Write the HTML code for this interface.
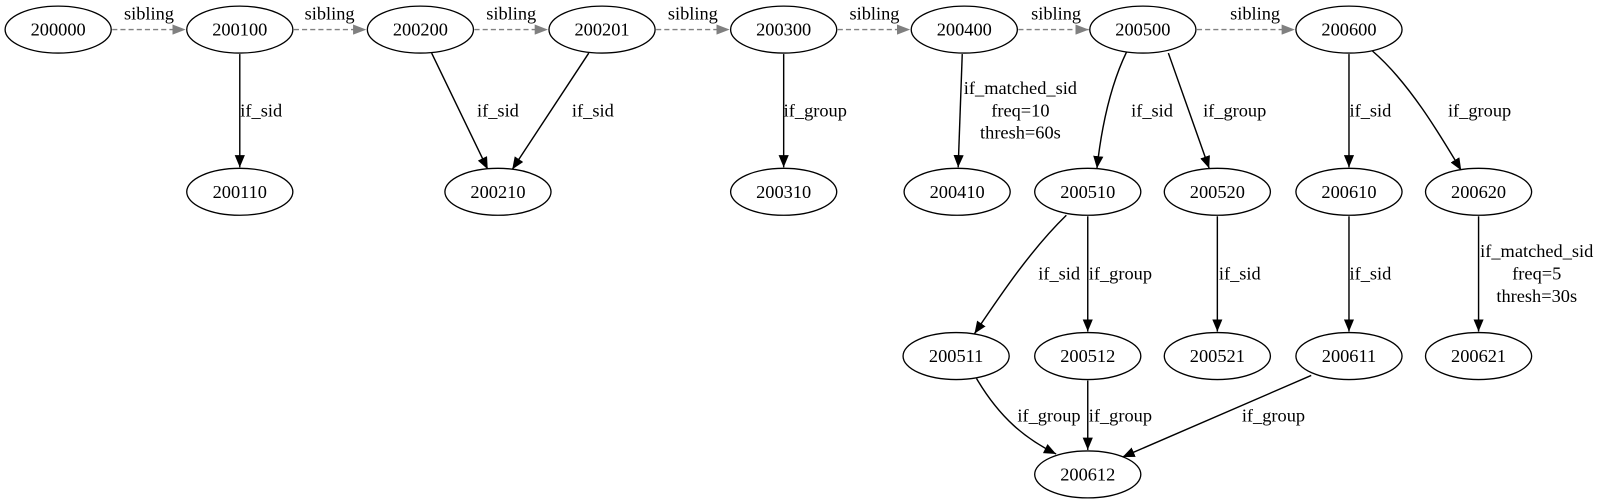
<!DOCTYPE html>
<html><head><meta charset="utf-8"><style>
html,body{margin:0;padding:0;background:#fff;width:1600px;height:504px;overflow:hidden}
svg{display:block}
text{font-family:"Liberation Serif",serif;font-size:18px;fill:#000}
</style></head><body>
<svg width="1600" height="504" viewBox="0 0 1568 494" preserveAspectRatio="none" xmlns="http://www.w3.org/2000/svg">
<defs>
<marker id="a" markerWidth="12" markerHeight="10" refX="12" refY="5" orient="auto" markerUnits="userSpaceOnUse"><path d="M0,0 L12,5 L0,10 Z" fill="#000"/></marker>
<marker id="g" markerWidth="13" markerHeight="10" refX="13" refY="5" orient="auto" markerUnits="userSpaceOnUse"><path d="M0,0 L13,5 L0,10 Z" fill="#808080"/></marker>
</defs>
<g fill="none" stroke="#808080" stroke-width="1.3" stroke-dasharray="5,3" marker-end="url(#g)">
<path d="M110,29 L182,29"/>
<path d="M288,29 L359,29"/>
<path d="M465,29 L537,29"/>
<path d="M643,29 L715,29"/>
<path d="M821,29 L892,29"/>
<path d="M998,29 L1067,29"/>
<path d="M1173,29 L1269,29"/>
</g>
<g>
<text x="146" y="19" text-anchor="middle">sibling</text>
<text x="323" y="19" text-anchor="middle">sibling</text>
<text x="501" y="19" text-anchor="middle">sibling</text>
<text x="679" y="19" text-anchor="middle">sibling</text>
<text x="857" y="19" text-anchor="middle">sibling</text>
<text x="1035" y="19" text-anchor="middle">sibling</text>
<text x="1230" y="19" text-anchor="middle">sibling</text>
</g>
<g fill="none" stroke="#000" stroke-width="1.4" marker-end="url(#a)">
<path d="M235,53 L235,164"/>
<path d="M423,52 L478,166"/>
<path d="M577,52 L502,166"/>
<path d="M768,53 L768,164"/>
<path d="M943,53 L939,164"/>
<path d="M1104,51 C1090,80 1080,120 1075,165"/>
<path d="M1145,52 L1185,165"/>
<path d="M1322,53 L1322,164"/>
<path d="M1345,50 C1380,80 1410,130 1432,167"/>
<path d="M1045,211 C1010,245 980,290 955,327"/>
<path d="M1066,212 L1066,325"/>
<path d="M1193,212 L1193,325"/>
<path d="M1322,212 L1322,325"/>
<path d="M1449,212 L1449,325"/>
<path d="M957,371 C980,410 1005,430 1035,445"/>
<path d="M1066,373 L1066,441"/>
<path d="M1285,368 L1100,448"/>
</g>
<g fill="#fff" stroke="#000" stroke-width="1.3">
<ellipse cx="57" cy="29" rx="52" ry="23"/>
<ellipse cx="235" cy="29" rx="52" ry="23"/>
<ellipse cx="412" cy="29" rx="52" ry="23"/>
<ellipse cx="590" cy="29" rx="52" ry="23"/>
<ellipse cx="768" cy="29" rx="52" ry="23"/>
<ellipse cx="945" cy="29" rx="52" ry="23"/>
<ellipse cx="1120" cy="29" rx="52" ry="23"/>
<ellipse cx="1322" cy="29" rx="52" ry="23"/>
<ellipse cx="235" cy="188" rx="52" ry="23"/>
<ellipse cx="488" cy="188" rx="52" ry="23"/>
<ellipse cx="768" cy="188" rx="52" ry="23"/>
<ellipse cx="938" cy="188" rx="52" ry="23"/>
<ellipse cx="1066" cy="188" rx="52" ry="23"/>
<ellipse cx="1193" cy="188" rx="52" ry="23"/>
<ellipse cx="1322" cy="188" rx="52" ry="23"/>
<ellipse cx="1449" cy="188" rx="52" ry="23"/>
<ellipse cx="937" cy="349" rx="52" ry="23"/>
<ellipse cx="1066" cy="349" rx="52" ry="23"/>
<ellipse cx="1193" cy="349" rx="52" ry="23"/>
<ellipse cx="1322" cy="349" rx="52" ry="23"/>
<ellipse cx="1449" cy="349" rx="52" ry="23"/>
<ellipse cx="1066" cy="465" rx="52" ry="23"/>
</g>
<g text-anchor="middle">
<text x="57" y="35">200000</text>
<text x="235" y="35">200100</text>
<text x="412" y="35">200200</text>
<text x="590" y="35">200201</text>
<text x="768" y="35">200300</text>
<text x="945" y="35">200400</text>
<text x="1120" y="35">200500</text>
<text x="1322" y="35">200600</text>
<text x="235" y="194">200110</text>
<text x="488" y="194">200210</text>
<text x="768" y="194">200310</text>
<text x="938" y="194">200410</text>
<text x="1066" y="194">200510</text>
<text x="1193" y="194">200520</text>
<text x="1322" y="194">200610</text>
<text x="1449" y="194">200620</text>
<text x="937" y="355">200511</text>
<text x="1066" y="355">200512</text>
<text x="1193" y="355">200521</text>
<text x="1322" y="355">200611</text>
<text x="1449" y="355">200621</text>
<text x="1066" y="471">200612</text>
</g>
<g text-anchor="middle">
<text x="256" y="114">if_sid</text>
<text x="488" y="114">if_sid</text>
<text x="581" y="114">if_sid</text>
<text x="799" y="114">if_group</text>
<text x="1000" y="92">if_matched_sid</text>
<text x="1000" y="114">freq=10</text>
<text x="1000" y="136">thresh=60s</text>
<text x="1129" y="114">if_sid</text>
<text x="1210" y="114">if_group</text>
<text x="1343" y="114">if_sid</text>
<text x="1450" y="114">if_group</text>
<text x="1038" y="274">if_sid</text>
<text x="1098" y="274">if_group</text>
<text x="1215" y="274">if_sid</text>
<text x="1343" y="274">if_sid</text>
<text x="1506" y="252">if_matched_sid</text>
<text x="1506" y="274">freq=5</text>
<text x="1506" y="296">thresh=30s</text>
<text x="1028" y="413">if_group</text>
<text x="1098" y="413">if_group</text>
<text x="1248" y="413">if_group</text>
</g>
</svg>
</body></html>
